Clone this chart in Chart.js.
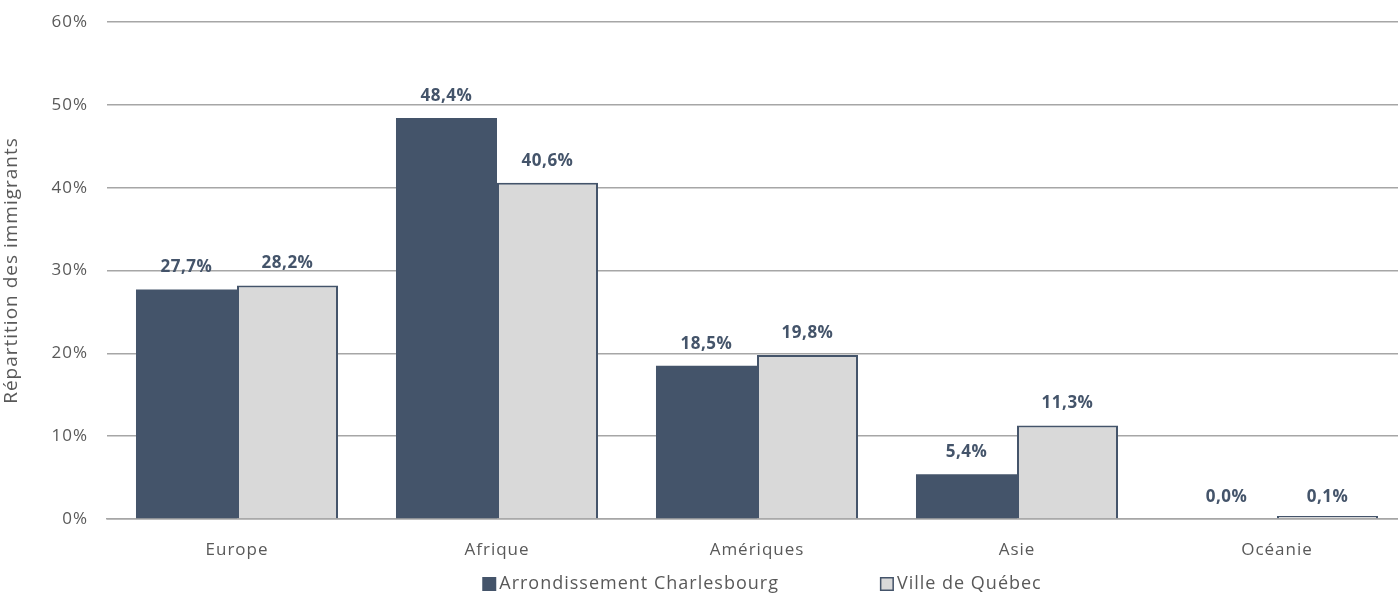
<!DOCTYPE html>
<html>
<head>
<meta charset="utf-8">
<script src="https://cdn.jsdelivr.net/npm/chart.js@4/dist/chart.umd.min.js"></script>
<style>
  body { margin: 0; overflow: hidden; background: #fff; }
  #wrap { width: 1398px; height: 595px; overflow: hidden; }
</style>
</head>
<body>
<div id="wrap"><canvas id="myChart" width="1410" height="595"></canvas></div>
<script>
// data
var regions = ["Europe", "Afrique", "Amériques", "Asie", "Océanie"];
var charlesbourg = [27.7, 48.4, 18.5, 5.4, 0.0];
var villeQuebec = [28.2, 40.6, 19.8, 11.3, 0.1];
var seriesNames = ["Arrondissement Charlesbourg", "Ville de Québec"];
var yTicks = [0, 10, 20, 30, 40, 50, 60];

var darkBlue = "#44546A";
var lightGray = "#D9D9D9";
var textGray = "#595959";
var fontName = "'Open Sans', sans-serif";

function fmt(v) {
    return v.toFixed(1).replace(".", ",") + "%";
}

// Excel-like spacing of text
var spacingPlugin = {
    id: "spacing",
    beforeLayout: function(chart) { chart.ctx.letterSpacing = "1px"; },
    beforeDraw: function(chart) { chart.ctx.letterSpacing = "1px"; }
};

// value labels above bars
var labelPlugin = {
    id: "barLabels",
    afterDatasetsDraw: function(chart) {
        var ctx = chart.ctx;
        ctx.save();
        ctx.letterSpacing = "0.5px";
        ctx.font = "bold 17px " + fontName;
        ctx.fillStyle = darkBlue;
        ctx.textAlign = "center";
        ctx.textBaseline = "middle";
        chart.data.datasets.forEach(function(ds, i) {
            var meta = chart.getDatasetMeta(i);
            var zero = chart.scales.y.getPixelForValue(0);
            meta.data.forEach(function(bar, j) {
                var top = Math.min(bar.y, zero);
                if (ds.data[j] < 1) top = zero;
                ctx.fillText(fmt(ds.data[j]), bar.x, top - 22);
            });
        });
        ctx.restore();
    }
};

// legend drawn at the bottom
var legendPlugin = {
    id: "bottomLegend",
    afterDraw: function(chart) {
        var ctx = chart.ctx;
        var area = chart.chartArea;
        ctx.save();
        ctx.letterSpacing = "1px";
        ctx.font = "18px " + fontName;
        ctx.textBaseline = "middle";
        var box = 14, gapText = 3, gapItem = 101, y = 584;
        var w1 = ctx.measureText(seriesNames[0]).width;
        var w2 = ctx.measureText(seriesNames[1]).width;
        var total = box + gapText + w1 + gapItem + box + gapText + w2;
        var x = (area.left + area.right) / 2 + 5 - total / 2;
        chart.data.datasets.forEach(function(ds, i) {
            ctx.fillStyle = ds.backgroundColor;
            ctx.fillRect(x, y - box / 2, box, box);
            if (ds.borderWidth) {
                ctx.strokeStyle = ds.borderColor;
                ctx.lineWidth = 1.5;
                ctx.strokeRect(x + 0.75, y - box / 2 + 0.75, box - 1.5, box - 1.5);
            }
            x += box + gapText;
            ctx.fillStyle = textGray;
            ctx.fillText(seriesNames[i], x, y);
            x += (i == 0 ? w1 : w2) + gapItem;
        });
        ctx.restore();
    }
};

var ctx = document.getElementById("myChart");
var chart = new Chart(ctx, {
    type: "bar",
    data: {
        labels: regions,
        datasets: [{
            label: seriesNames[0],
            data: charlesbourg,
            backgroundColor: darkBlue,
            borderWidth: 0
        }, {
            label: seriesNames[1],
            data: villeQuebec,
            backgroundColor: lightGray,
            borderColor: darkBlue,
            borderWidth: 2,
            minBarLength: 3
        }]
    },
    options: {
        responsive: false,
        animation: false,
        layout: { padding: { top: 22, right: 3, left: 0, bottom: 0 } },
        plugins: {
            legend: { display: false },
            tooltip: { enabled: false }
        },
        datasets: {
            bar: { barPercentage: 1, categoryPercentage: 0.777 }
        },
        scales: {
            x: {
                grid: { display: false },
                border: { display: true, color: "#A6A6A6", width: 1.5 },
                ticks: {
                    color: textGray,
                    font: { family: fontName, size: 17 },
                    padding: 13
                },
                afterFit: function(scale) { scale.height = 76; }
            },
            y: {
                min: 0,
                max: 60,
                afterBuildTicks: function(scale) {
                    scale.ticks = yTicks.map(function(v) { return { value: v }; });
                },
                grid: { color: "#A6A6A6", lineWidth: 1.5, drawTicks: false },
                border: { display: false },
                ticks: {
                    color: textGray,
                    font: { family: fontName, size: 17 },
                    padding: 19,
                    callback: function(v) { return v + "%"; }
                },
                title: {
                    display: true,
                    text: "Répartition des immigrants",
                    color: textGray,
                    font: { family: fontName, size: 19 },
                    padding: { top: 0, bottom: 0 }
                },
                afterFit: function(scale) {
                    scale.width = 107;
                    scale.paddingTop = 0;
                    scale.paddingBottom = 0;
                }
            }
        }
    },
    plugins: [spacingPlugin, labelPlugin, legendPlugin]
});
</script>
</body>
</html>
